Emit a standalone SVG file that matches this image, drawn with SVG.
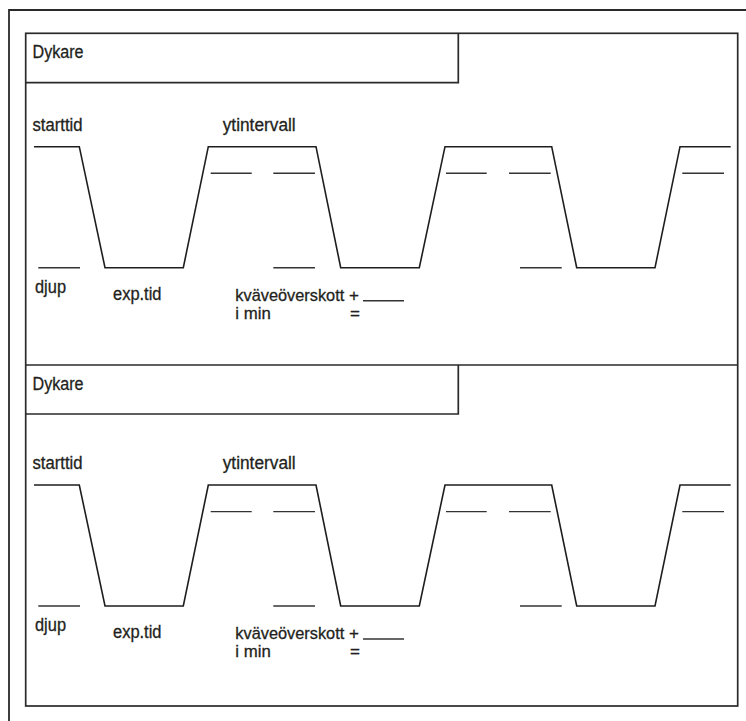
<svg xmlns="http://www.w3.org/2000/svg" width="746" height="721" viewBox="0 0 746 721">
  <style>
    .frame { fill: none; stroke: #2a2a2a; stroke-width: 1.8; }
    .box { fill: none; stroke: #2a2a2a; stroke-width: 1.7; }
    .wave { fill: none; stroke: #1e1e1e; stroke-width: 1.6; stroke-linejoin: miter; }
    .blank { stroke: #333; stroke-width: 1.4; }
    text { font-family: "Liberation Sans", Arial, sans-serif; font-size: 17.5px; fill: #231f20; stroke: #231f20; stroke-width: 0.3; }
    .small { font-size: 17px; }
  </style>
  <rect width="746" height="721" fill="#ffffff"/>

  <!-- outer frame (top and left edges only) -->
  <g id="outer-frame">
    <path class="frame" d="M746,10 H9 V721"/>
  </g>

  <!-- sheet border and divider between the two diver panels -->
  <g id="sheet">
    <rect class="box" x="25.7" y="33.3" width="712" height="672.7"/>
    <line class="box" x1="25.7" y1="365" x2="737.7" y2="365"/>
  </g>

  <!-- diver panel 1 -->
  <g id="panel-1">
    <g id="panel-1-header">
      <path class="box" d="M25.7,82.7 H458.3 V33.3"/>
      <text x="32.5" y="58" textLength="51" lengthAdjust="spacingAndGlyphs">Dykare</text>
    </g>
    <g id="panel-1-profile">
      <text x="32.5" y="130.5" textLength="50" lengthAdjust="spacingAndGlyphs">starttid</text>
      <text x="222.7" y="131" textLength="73" lengthAdjust="spacingAndGlyphs">ytintervall</text>
      <text x="35" y="293" textLength="31" lengthAdjust="spacingAndGlyphs">djup</text>
      <text x="113" y="300" textLength="48.5" lengthAdjust="spacingAndGlyphs">exp.tid</text>
      <text class="small" x="235.3" y="300.5" textLength="109" lengthAdjust="spacingAndGlyphs">kväveöverskott</text>
      <text class="small" x="349" y="300.5">+</text>
      <text class="small" x="235.3" y="319" textLength="35.5" lengthAdjust="spacingAndGlyphs">i min</text>
      <text class="small" x="350" y="319">=</text>
      <path class="wave" d="M34,146.7 H79.3 L105,267.7 H183.3 L208.3,146.7 H316 L340.7,267.7 H419.3 L445,146.7 H551.7 L576.7,267.7 H655 L680,146.7 H730.7"/>
      <g id="panel-1-blanks">
        <line class="blank" x1="210.7" y1="173.3" x2="251.7" y2="173.3"/>
        <line class="blank" x1="273.3" y1="173.3" x2="315" y2="173.3"/>
        <line class="blank" x1="446" y1="173.3" x2="486.7" y2="173.3"/>
        <line class="blank" x1="509" y1="173.3" x2="550.7" y2="173.3"/>
        <line class="blank" x1="682.3" y1="173.3" x2="724" y2="173.3"/>
        <line class="blank" x1="38.3" y1="267.7" x2="80" y2="267.7"/>
        <line class="blank" x1="273.3" y1="267.7" x2="315" y2="267.7"/>
        <line class="blank" x1="520" y1="267.7" x2="561.7" y2="267.7"/>
        <line class="blank" x1="363" y1="300.7" x2="404" y2="300.7"/>
      </g>
    </g>
  </g>

  <!-- diver panel 2 -->
  <g id="panel-2">
    <g id="panel-2-header">
      <path class="box" d="M25.7,414 H458.3 V365"/>
      <text x="32.5" y="389.5" textLength="51" lengthAdjust="spacingAndGlyphs">Dykare</text>
    </g>
    <g id="panel-2-profile" transform="translate(0,338.3)">
      <text x="32.5" y="130.5" textLength="50" lengthAdjust="spacingAndGlyphs">starttid</text>
      <text x="222.7" y="131" textLength="73" lengthAdjust="spacingAndGlyphs">ytintervall</text>
      <text x="35" y="293" textLength="31" lengthAdjust="spacingAndGlyphs">djup</text>
      <text x="113" y="300" textLength="48.5" lengthAdjust="spacingAndGlyphs">exp.tid</text>
      <text class="small" x="235.3" y="300.5" textLength="109" lengthAdjust="spacingAndGlyphs">kväveöverskott</text>
      <text class="small" x="349" y="300.5">+</text>
      <text class="small" x="235.3" y="319" textLength="35.5" lengthAdjust="spacingAndGlyphs">i min</text>
      <text class="small" x="350" y="319">=</text>
      <path class="wave" d="M34,146.7 H79.3 L105,267.7 H183.3 L208.3,146.7 H316 L340.7,267.7 H419.3 L445,146.7 H551.7 L576.7,267.7 H655 L680,146.7 H730.7"/>
      <g id="panel-2-blanks">
        <line class="blank" x1="210.7" y1="173.3" x2="251.7" y2="173.3"/>
        <line class="blank" x1="273.3" y1="173.3" x2="315" y2="173.3"/>
        <line class="blank" x1="446" y1="173.3" x2="486.7" y2="173.3"/>
        <line class="blank" x1="509" y1="173.3" x2="550.7" y2="173.3"/>
        <line class="blank" x1="682.3" y1="173.3" x2="724" y2="173.3"/>
        <line class="blank" x1="38.3" y1="267.7" x2="80" y2="267.7"/>
        <line class="blank" x1="273.3" y1="267.7" x2="315" y2="267.7"/>
        <line class="blank" x1="520" y1="267.7" x2="561.7" y2="267.7"/>
        <line class="blank" x1="363" y1="300.7" x2="404" y2="300.7"/>
      </g>
    </g>
  </g>
</svg>
